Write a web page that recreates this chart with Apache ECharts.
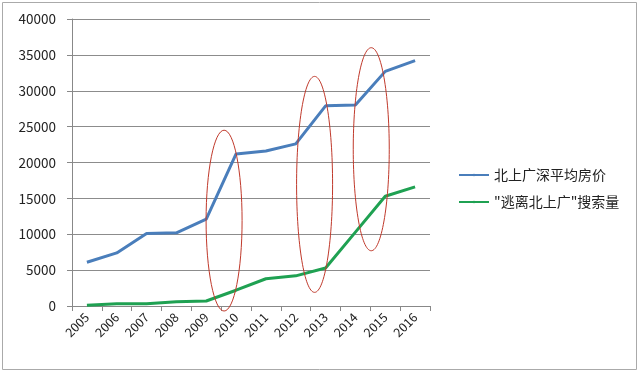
<!DOCTYPE html>
<html>
<head>
<meta charset="utf-8">
<script src="https://cdn.jsdelivr.net/npm/echarts@6/dist/echarts.min.js"></script>
<style>
  html, body { margin: 0; padding: 0; background: #fff; }
  #chart { width: 640px; height: 377px; }
</style>
</head>
<body>
<div id="chart"></div>
<script>
const years = ["2005", "2006", "2007", "2008", "2009", "2010", "2011", "2012", "2013", "2014", "2015", "2016"];
const housePrice = [6100, 7400, 10100, 10200, 12100, 21200, 21600, 22600, 27900, 28000, 32700, 34200];
const searchVolume = [100, 300, 300, 600, 700, 2200, 3800, 4200, 5300, 10300, 15300, 16600];
const seriesNames = ["北上广深平均房价", "\"逃离北上广\"搜索量"];

// red circled years: [category, low value, high value, shift in px]
const circled = [
  ["2010", -700, 24500, -12],
  ["2013", 1900, 32000, -11],
  ["2015", 7700, 36000, -14]
];

let myChart = echarts.init(document.getElementById("chart"));

let option = {
  backgroundColor: "#fff",
  animation: false,
  textStyle: { fontFamily: "Noto Sans CJK SC, sans-serif" },
  grid: { left: 72, right: 210, top: 19, bottom: 71 },
  legend: {
    orient: "vertical",
    left: 453,
    top: 163,
    itemWidth: 30,
    itemHeight: 3,
    itemGap: 13,
    textStyle: { fontSize: 14, color: "#222" },
    data: seriesNames
  },
  xAxis: {
    type: "category",
    data: years,
    boundaryGap: true,
    axisLine: { lineStyle: { color: "#888", width: 1 } },
    axisTick: { show: true, length: 5, lineStyle: { color: "#888" } },
    axisLabel: { rotate: 45, fontSize: 12.5, color: "#222", margin: 9 }
  },
  yAxis: {
    type: "value",
    min: 0,
    max: 40000,
    interval: 5000,
    axisLine: { show: true, lineStyle: { color: "#888" } },
    axisTick: { show: true, inside: false, length: 5, lineStyle: { color: "#888" } },
    axisLabel: {
      fontSize: 13.5,
      color: "#222",
      margin: 16,
      formatter: function (v) { return String(v); }
    },
    splitLine: { lineStyle: { color: "#8c8c8c", width: 1 } }
  },
  series: [
    {
      name: seriesNames[0],
      type: "line",
      symbol: "none",
      data: housePrice,
      lineStyle: { color: "#4a7ebb", width: 3 },
      itemStyle: { color: "#4a7ebb" }
    },
    {
      name: seriesNames[1],
      type: "line",
      symbol: "none",
      data: searchVolume,
      lineStyle: { color: "#1fa152", width: 3 },
      itemStyle: { color: "#1fa152" }
    }
  ]
};

myChart.setOption(option);

// outer frame and ellipses placed through the axes
let ellipses = circled.map(function (c) {
  let top = myChart.convertToPixel({ gridIndex: 0 }, [c[0], c[2]]);
  let bottom = myChart.convertToPixel({ gridIndex: 0 }, [c[0], c[1]]);
  return {
    type: "ellipse",
    shape: {
      cx: top[0] + c[3],
      cy: (top[1] + bottom[1]) / 2,
      rx: 18,
      ry: (bottom[1] - top[1]) / 2
    },
    style: { fill: "none", stroke: "#c0392b", lineWidth: 1 },
    z: 100
  };
});

myChart.setOption({
  graphic: [
    {
      type: "rect",
      shape: { x: 2.5, y: 2.5, width: 634, height: 367 },
      style: { fill: "none", stroke: "#aaa", lineWidth: 1 },
      z: 0
    }
  ].concat(ellipses)
});
</script>
</body>
</html>
